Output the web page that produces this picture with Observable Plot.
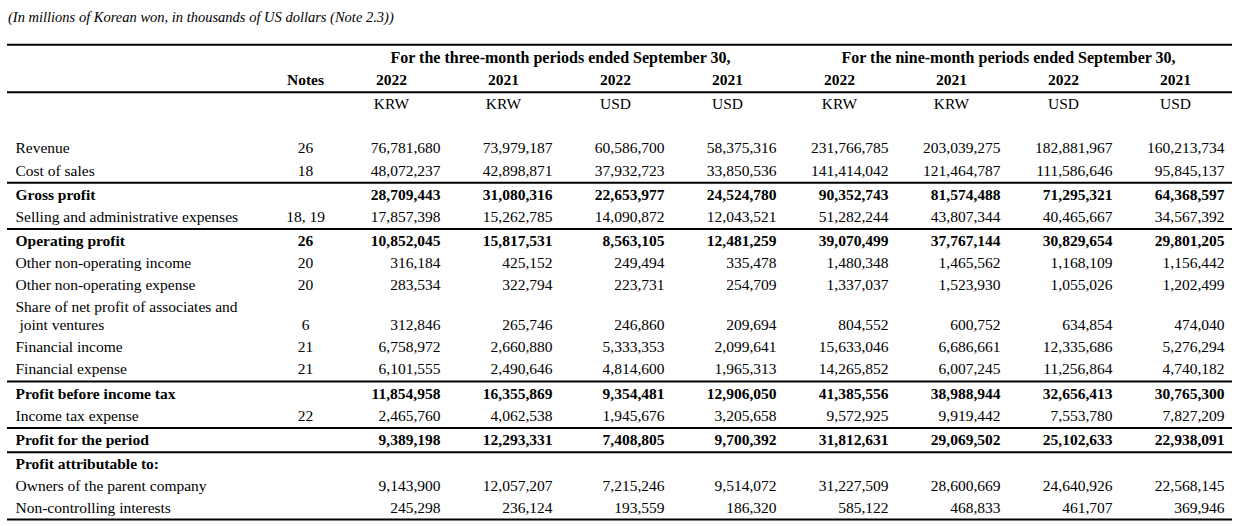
<!DOCTYPE html>
<html>
<head>
<meta charset="utf-8">
<script src="https://cdn.jsdelivr.net/npm/d3@7"></script>
<script src="https://cdn.jsdelivr.net/npm/@observablehq/plot@0.6"></script>
<style>
  html, body { margin: 0; padding: 0; background: #fff; }
  #title { font: italic 14.5px "Liberation Serif", serif; color: #000; padding: 6px 0 0 8px; height: 22px; line-height: 22px; white-space: nowrap; }
  #chart svg { display: block; }
</style>
</head>
<body>
<div id="title">(In millions of Korean won, in thousands of US dollars (Note 2.3))</div>
<div id="chart"></div>
<script>
// ---- data ----
const periods = ["For the three-month periods ended September 30,", "For the nine-month periods ended September 30,"];
const colIds = ["q22krw", "q21krw", "q22usd", "q21usd", "n22krw", "n21krw", "n22usd", "n21usd"];
const years = ["2022", "2021", "2022", "2021", "2022", "2021", "2022", "2021"];
const currencies = ["KRW", "KRW", "USD", "USD", "KRW", "KRW", "USD", "USD"];

const lineLabels = [
  "Revenue", "Cost of sales", "Gross profit", "Selling and administrative expenses",
  "Operating profit", "Other non-operating income", "Other non-operating expense",
  "Share of net profit of associates and", "\u00a0joint ventures",
  "Financial income", "Financial expense", "Profit before income tax", "Income tax expense",
  "Profit for the period", "Profit attributable to:", "Owners of the parent company",
  "Non-controlling interests"
];
const notes = ["26", "18", "", "18, 19", "26", "20", "20", "", "6", "21", "21", "", "22", "", "", "", ""];
const boldLines = ["Gross profit", "Operating profit", "Profit before income tax", "Profit for the period", "Profit attributable to:"];
const continuedLines = ["\u00a0joint ventures"];
const rulesAfter = ["Cost of sales", "Selling and administrative expenses", "Financial expense", "Income tax expense", "Profit for the period", "Non-controlling interests"];

const q22krw = [76781680, 48072237, 28709443, 17857398, 10852045, 316184, 283534, null, 312846, 6758972, 6101555, 11854958, 2465760, 9389198, null, 9143900, 245298];
const q21krw = [73979187, 42898871, 31080316, 15262785, 15817531, 425152, 322794, null, 265746, 2660880, 2490646, 16355869, 4062538, 12293331, null, 12057207, 236124];
const q22usd = [60586700, 37932723, 22653977, 14090872, 8563105, 249494, 223731, null, 246860, 5333353, 4814600, 9354481, 1945676, 7408805, null, 7215246, 193559];
const q21usd = [58375316, 33850536, 24524780, 12043521, 12481259, 335478, 254709, null, 209694, 2099641, 1965313, 12906050, 3205658, 9700392, null, 9514072, 186320];
const n22krw = [231766785, 141414042, 90352743, 51282244, 39070499, 1480348, 1337037, null, 804552, 15633046, 14265852, 41385556, 9572925, 31812631, null, 31227509, 585122];
const n21krw = [203039275, 121464787, 81574488, 43807344, 37767144, 1465562, 1523930, null, 600752, 6686661, 6007245, 38988944, 9919442, 29069502, null, 28600669, 468833];
const n22usd = [182881967, 111586646, 71295321, 40465667, 30829654, 1168109, 1055026, null, 634854, 12335686, 11256864, 32656413, 7553780, 25102633, null, 24640926, 461707];
const n21usd = [160213734, 95845137, 64368597, 34567392, 29801205, 1156442, 1202499, null, 474040, 5276294, 4740182, 30765300, 7827209, 22938091, null, 22568145, 369946];

// ---- layout (in line units) ----
const ruleGap = 0.1;      // extra space taken by a horizontal rule
const wrapAdvance = 0.8;  // tighter spacing for a wrapped continuation line
const head = {period: 0, year: 1, currency: 2 + ruleGap};
const columns = {q22krw, q21krw, q22usd, q21usd, n22krw, n21krw, n22usd, n21usd};
let cursor = head.currency + 2; // one blank line under the header
const lines = lineLabels.map((label, i) => {
  if (i > 0) {
    cursor += continuedLines.includes(label) ? wrapAdvance : 1;
    if (rulesAfter.includes(lineLabels[i - 1])) cursor += ruleGap;
  }
  return {label, note: notes[i], row: cursor, bold: boldLines.includes(label)};
});
const cells = lines.flatMap((l, i) => colIds.map(c => ({col: c, row: l.row, bold: l.bold, value: columns[c][i]})))
  .filter(d => d.value != null);
const fmt = d3.format(",");
const headCols = colIds.map((c, i) => ({col: c, year: years[i], cur: currencies[i]}));
const periodHeads = [{col: colIds[1], text: periods[0]}, {col: colIds[5], text: periods[1]}];
const ruleRows = [head.period - 0.6, (head.year + head.currency) / 2].concat(rulesAfter.map(r => {
  const i = lines.findIndex(l => l.label === r);
  return i + 1 < lines.length ? (lines[i].row + lines[i + 1].row) / 2 : lines[i].row + 0.5;
}));

const chart = Plot.plot({
  width: 1244,
  height: 498,
  marginTop: 29.4,
  marginBottom: 18,
  marginLeft: 7,
  marginRight: 12,
  x: {type: "point", domain: colIds, range: [438, 1225], padding: 0, axis: null},
  y: {domain: [0, lines[lines.length - 1].row], reverse: true, axis: null},
  style: {fontFamily: "'Liberation Serif', serif", fontSize: "15.5px", color: "#000", background: "#fff"},
  marks: [
    Plot.ruleY(ruleRows, {y: d => d, stroke: "#000", strokeWidth: 2}),
    // headers
    Plot.text(periodHeads, {x: "col", y: () => head.period, text: "text", fontWeight: "bold", fontSize: 16, textAnchor: "middle", dx: 8, fill: "#000"}),
    Plot.text(headCols, {x: "col", y: () => head.year, text: "year", fontWeight: "bold", textAnchor: "middle", dx: -49, fill: "#000"}),
    Plot.text(["Notes"], {frameAnchor: "left", y: () => head.year, text: d => d, fontWeight: "bold", textAnchor: "middle", dx: 298, fill: "#000"}),
    Plot.text(headCols, {x: "col", y: () => head.currency, text: "cur", textAnchor: "middle", dx: -49, fill: "#000"}),
    // row labels
    Plot.text(lines.filter(d => !d.bold), {frameAnchor: "left", y: "row", text: "label", textAnchor: "start", dx: 8, fill: "#000"}),
    Plot.text(lines.filter(d => d.bold), {frameAnchor: "left", y: "row", text: "label", textAnchor: "start", dx: 8, fontWeight: "bold", fill: "#000"}),
    // notes
    Plot.text(lines.filter(d => d.note && !d.bold), {frameAnchor: "left", y: "row", text: "note", textAnchor: "middle", dx: 298, fill: "#000"}),
    Plot.text(lines.filter(d => d.note && d.bold), {frameAnchor: "left", y: "row", text: "note", textAnchor: "middle", dx: 298, fontWeight: "bold", fill: "#000"}),
    // values
    Plot.text(cells.filter(d => !d.bold), {x: "col", y: "row", text: d => fmt(d.value), textAnchor: "end", fill: "#000"}),
    Plot.text(cells.filter(d => d.bold), {x: "col", y: "row", text: d => fmt(d.value), textAnchor: "end", fontWeight: "bold", fill: "#000"})
  ]
});
document.getElementById("chart").appendChild(chart);
</script>
</body>
</html>
